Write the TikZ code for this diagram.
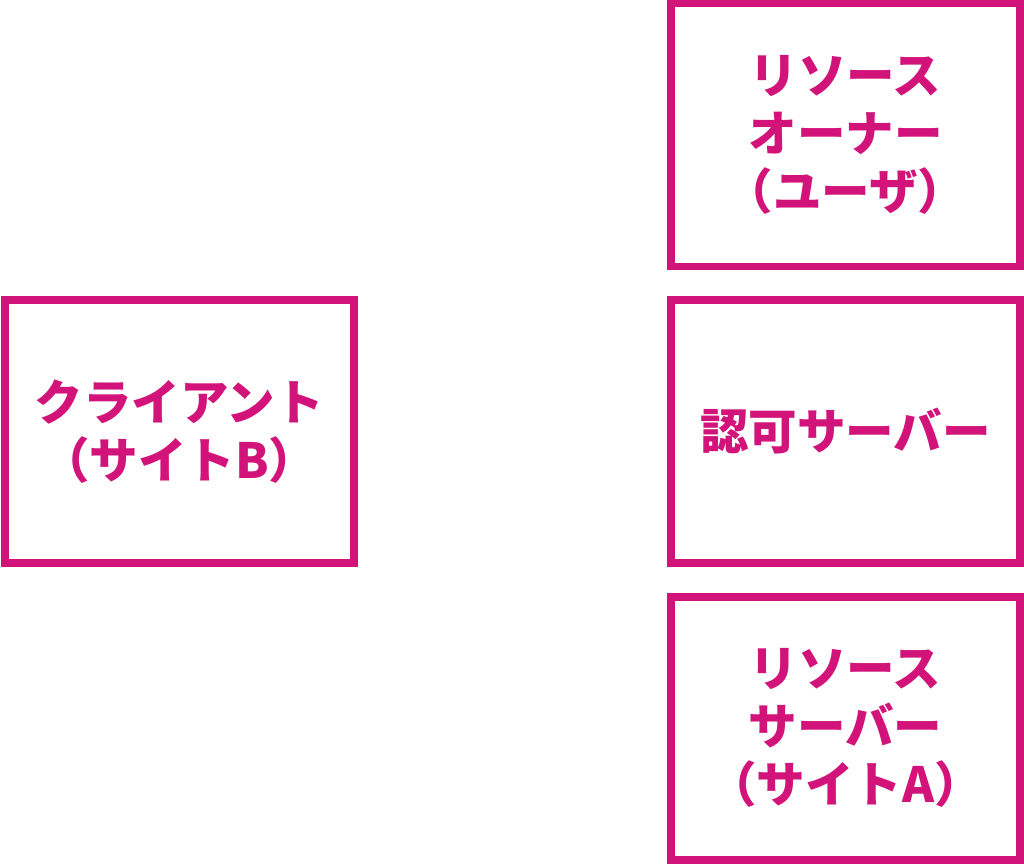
\documentclass[tikz,border=0pt]{standalone}
\usepackage{fontspec}
\setmainfont{Noto Sans CJK JP}
\definecolor{mag}{RGB}{210,20,122}
\begin{document}
\begin{tikzpicture}[x=1pt,y=-1pt,
  box/.style={draw=mag, line width=7.5pt, minimum width=349pt, minimum height=263pt,
    inner sep=0pt, outer sep=0pt, align=center, text=mag,
    font=\fontsize{48.5}{58}\selectfont\bfseries}]
\useasboundingbox (0,0) rectangle (1024,864);
\node[box] (client) at (179.25,431.5) {クライアント\\（サイトB）};
\node[box] (owner) at (845.5,135) {リソース\\オーナー\\（ユーザ）};
\node[box] (auth) at (845.5,431.5) {認可サーバー};
\node[box] (rs) at (845.5,728.25) {リソース\\サーバー\\（サイトA）};
\end{tikzpicture}
\end{document}
